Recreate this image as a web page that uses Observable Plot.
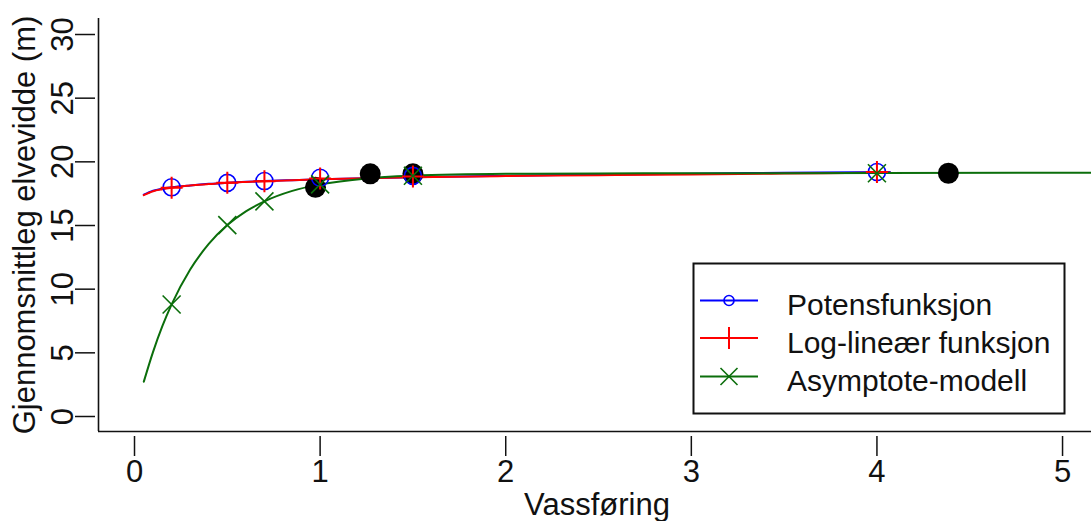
<!DOCTYPE html>
<html><head><meta charset="utf-8">
<script src="https://cdn.jsdelivr.net/npm/d3@7"></script>
<script src="https://cdn.jsdelivr.net/npm/@observablehq/plot@0.6"></script>
<style>
html,body{margin:0;padding:0;background:#fff;}
#wrap{position:relative;width:1091px;height:521px;font-family:"Liberation Sans",Arial,sans-serif;overflow:hidden;}
#legend{position:absolute;left:0;top:0;pointer-events:none;}
</style></head><body><div id="wrap"></div>
<script>
// ---- data ----
const fitX = [0.05, 0.1, 0.15, 0.2, 0.3, 0.4, 0.5, 0.6, 0.7, 0.85, 1.0, 1.25, 1.5, 2.0, 2.5, 3.0, 3.5, 4.07];
const powerCurve = [17.42, 17.73, 17.89, 18.0, 18.15, 18.27, 18.35, 18.43, 18.49, 18.56, 18.63, 18.72, 18.79, 18.91, 19.0, 19.07, 19.14, 19.2];
const loglinCurve = [17.38, 17.69, 17.85, 17.97, 18.14, 18.25, 18.35, 18.42, 18.48, 18.56, 18.63, 18.72, 18.78, 18.88, 18.95, 19.0, 19.08, 19.16];
const asymX = [0.05, 0.1, 0.15, 0.2, 0.3, 0.4, 0.5, 0.6, 0.7, 0.85, 1.0, 1.25, 1.5, 2.0, 2.5, 3.0, 4.0, 5.3];
const asymCurve = [2.73, 5.08, 7.09, 8.8, 11.54, 13.55, 15.03, 16.11, 16.9, 17.72, 18.23, 18.7, 18.91, 19.06, 19.09, 19.1, 19.12, 19.15];
const flowX = [0.2, 0.5, 0.7, 1.0, 1.5, 4.0];
const powerPts = [18.0, 18.35, 18.49, 18.75, 18.9, 19.2];
const loglinPts = [17.97, 18.35, 18.48, 18.7, 18.85, 19.2];
const asymPts = [8.8, 15.03, 16.9, 18.23, 18.91, 19.1];
const obsX = [0.975, 1.27, 1.5, 4.385];
const obsY = [18.0, 19.06, 19.06, 19.1];
const xTicks = [0, 1, 2, 3, 4, 5];
const yTicks = [0, 5, 10, 15, 20, 25, 30];
const seriesNames = ["Potensfunksjon", "Log-lineær funksjon", "Asymptote-modell"];
const xTitle = "Vassføring";
const yTitle = "Gjennomsnittleg elvevidde (m)";

// ---- styles ----
const colors = ["#0000ff", "#ff0000", "#0b6e0b"];
const FONT = '"Liberation Sans", Arial, sans-serif';
const xDomain = [-0.194, 5.156];
const yDomain = [-1.178, 31.257];

const plusSym = {draw(ctx, size) {const r = Math.sqrt(size / Math.PI); ctx.moveTo(-r, 0); ctx.lineTo(r, 0); ctx.moveTo(0, -r); ctx.lineTo(0, r);}};
const timesSym = {draw(ctx, size) {const r = Math.sqrt(size / Math.PI); ctx.moveTo(-r, -r); ctx.lineTo(r, r); ctx.moveTo(-r, r); ctx.lineTo(r, -r);}};

const zip = (xs, ys) => xs.map((x, i) => ({x, y: ys[i]}));
const powerLine = zip(fitX, powerCurve);
const loglinLine = zip(fitX, loglinCurve);
const asymLine = zip(asymX, asymCurve);
const obs = zip(obsX, obsY);

const chart = Plot.plot({
  width: 1091,
  height: 521,
  marginLeft: 98,
  marginRight: 0,
  marginTop: 18,
  marginBottom: 90,
  style: {fontFamily: FONT, fontSize: "31px", color: "#111", background: "#fff"},
  x: {domain: xDomain},
  y: {domain: yDomain},
  marks: [
    Plot.ruleX([xDomain[0]], {stroke: "#111", strokeWidth: 1.6}),
    Plot.ruleY([yDomain[0]], {stroke: "#111", strokeWidth: 1.6}),
    Plot.axisX({ticks: xTicks, tickSize: 20, strokeWidth: 1.5, dy: 5, label: null, tickFormat: d => String(d)}),
    Plot.axisY({ticks: yTicks, tickSize: 20, strokeWidth: 1.5, tickRotate: -90, dx: -3, label: null, tickFormat: d => String(d)}),
    Plot.text([xTitle], {frameAnchor: "bottom", textAnchor: "middle", lineAnchor: "bottom", dy: 83, dx: 2, fill: "#111"}),
    Plot.text([yTitle], {frameAnchor: "left", textAnchor: "middle", lineAnchor: "bottom", rotate: -90, dx: -64, fill: "#111"}),
    Plot.line(powerLine, {x: "x", y: "y", stroke: colors[0], strokeWidth: 2, curve: "monotone-x", clip: true}),
    Plot.line(loglinLine, {x: "x", y: "y", stroke: colors[1], strokeWidth: 2, curve: "monotone-x", clip: true}),
    Plot.line(asymLine, {x: "x", y: "y", stroke: colors[2], strokeWidth: 2, curve: "monotone-x", clip: true}),
    Plot.dot(obs, {x: "x", y: "y", r: 10.5, fill: "#000", stroke: "none"}),
    Plot.dot(zip(flowX, powerPts), {x: "x", y: "y", r: 8.5, stroke: colors[0], fill: "none", strokeWidth: 1.6}),
    Plot.dot(zip(flowX, loglinPts), {x: "x", y: "y", r: 11, symbol: plusSym, stroke: colors[1], fill: "none", strokeWidth: 2}),
    Plot.dot(zip(flowX, asymPts), {x: "x", y: "y", r: 9, symbol: timesSym, stroke: colors[2], fill: "none", strokeWidth: 1.6})
  ]
});

const wrap = document.getElementById("wrap");
wrap.appendChild(chart);

// ---- legend overlay (inside the plot area, as in the reference) ----
const ns = "http://www.w3.org/2000/svg";
const leg = document.createElementNS(ns, "svg");
leg.setAttribute("id", "legend");
leg.setAttribute("width", 1091);
leg.setAttribute("height", 521);
const mk = (tag, attrs) => {const e = document.createElementNS(ns, tag); for (const k in attrs) e.setAttribute(k, attrs[k]); leg.appendChild(e); return e;};
mk("rect", {x: 693.5, y: 263.5, width: 371, height: 150, fill: "#fff", stroke: "#111", "stroke-width": 2});
const rowsY = [300.5, 338, 376.5];
const lx0 = 700, lx1 = 758, mx = 729;
rowsY.forEach((ry, i) => {
  mk("line", {x1: lx0, x2: lx1, y1: ry, y2: ry, stroke: colors[i], "stroke-width": 2});
  if (i === 0) mk("circle", {cx: mx, cy: ry, r: 5, fill: "none", stroke: colors[i], "stroke-width": 1.6});
  if (i === 1) mk("path", {d: `M${mx},${ry - 11}V${ry + 11}M${mx - 11},${ry}H${mx + 11}`, stroke: colors[i], "stroke-width": 2, fill: "none"});
  if (i === 2) mk("path", {d: `M${mx - 8.5},${ry - 8.5}L${mx + 8.5},${ry + 8.5}M${mx - 8.5},${ry + 8.5}L${mx + 8.5},${ry - 8.5}`, stroke: colors[i], "stroke-width": 1.6, fill: "none"});
  const t = mk("text", {x: 787, y: ry + 14.5, fill: "#111", "font-size": 30, "font-family": FONT});
  t.textContent = seriesNames[i];
});
wrap.appendChild(leg);
</script>
</body></html>
